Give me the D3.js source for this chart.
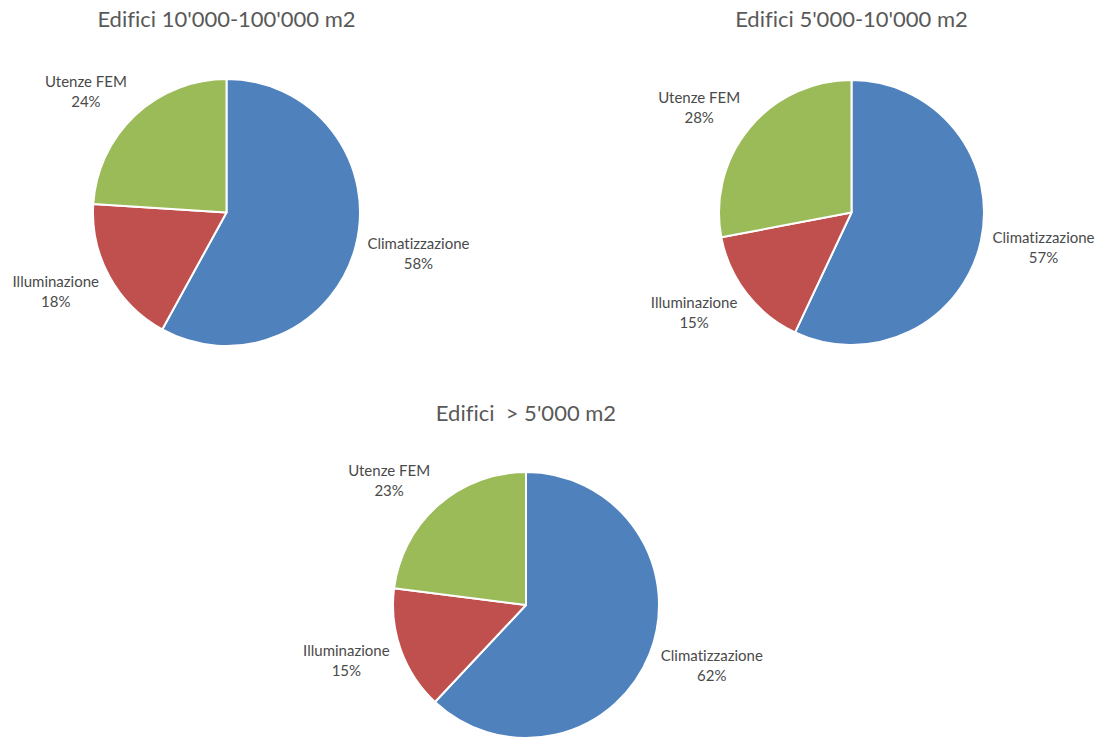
<!DOCTYPE html>
<html>
<head>
<meta charset="utf-8">
<script src="https://cdn.jsdelivr.net/npm/d3@7"></script>
<style>
  html, body { margin: 0; padding: 0; background: #fff; }
  svg { display: block; }
  text { font-variant-ligatures: none; font-feature-settings: "liga" 0; }
</style>
</head>
<body>
<svg id="chart" width="1103" height="738"></svg>
<script>
// ---- data ----
const categories = ["Climatizzazione", "Illuminazione", "Utenze FEM"];
const titles = ["Edifici 10'000-100'000 m2", "Edifici 5'000-10'000 m2", "Edifici  > 5'000 m2"];
const valuesLarge = [58, 18, 24];   // Edifici 10'000-100'000 m2
const valuesMedium = [57, 15, 28];  // Edifici 5'000-10'000 m2
const valuesAll = [62, 15, 23];     // Edifici > 5'000 m2
const colors = ["#4F81BD", "#C0504D", "#9BBB59"];

// ---- layout ----
const panels = [
  { title: titles[0], values: valuesLarge, cx: 226.5, cy: 212.5, r: 133.5, titleY: 27 },
  { title: titles[1], values: valuesMedium, cx: 851.5, cy: 212.5, r: 132.5, titleY: 27 },
  { title: titles[2], values: valuesAll, cx: 526, cy: 605, r: 133, titleY: 421 }
];

const svg = d3.select("#chart");
const fontFam = "Lato, 'Open Sans', sans-serif";
const color = d3.scaleOrdinal().domain(categories).range(colors);

const pie = d3.pie().sort(null).value(d => d.value);

panels.forEach(p => {
  const g = svg.append("g").attr("transform", `translate(${p.cx},${p.cy})`);
  const data = categories.map((c, i) => ({ cat: c, value: p.values[i] }));
  const arcs = pie(data);
  const arc = d3.arc().innerRadius(0).outerRadius(p.r);

  g.selectAll("path.slice").data(arcs).enter().append("path")
    .attr("class", "slice")
    .attr("d", arc)
    .attr("fill", d => color(d.data.cat))
    .attr("stroke", "#fff")
    .attr("stroke-width", 2)
    .attr("stroke-linejoin", "round");

  svg.append("text")
    .attr("x", p.cx)
    .attr("y", p.titleY)
    .attr("text-anchor", "middle")
    .attr("font-family", fontFam)
    .attr("font-size", 22)
    .attr("fill", "#595959")
    .style("white-space", "pre")
    .attr("xml:space", "preserve")
    .text(p.title);

  const lineH = 20;
  arcs.forEach(a => {
    const mid = (a.startAngle + a.endAngle) / 2;
    const s = Math.sin(mid), c = Math.cos(mid);
    const rr = p.r + 12;
    const px = s * rr, py = -c * rr;
    const t = g.append("text")
      .attr("text-anchor", "middle")
      .attr("font-family", fontFam)
      .attr("font-size", 15)
      .attr("fill", "#4a4a4a");
    const t1 = t.append("tspan").text(a.data.cat);
    const t2 = t.append("tspan").text(a.data.value + "%");
    const w = t1.node().getComputedTextLength();
    const h = lineH * 2;
    const bx = px + Math.sign(s) * w / 2;
    const by = py - c * h / 2;
    t1.attr("x", bx).attr("y", by - lineH / 2 + 5);
    t2.attr("x", bx).attr("y", by + lineH / 2 + 5);
  });
});
</script>
</body>
</html>
